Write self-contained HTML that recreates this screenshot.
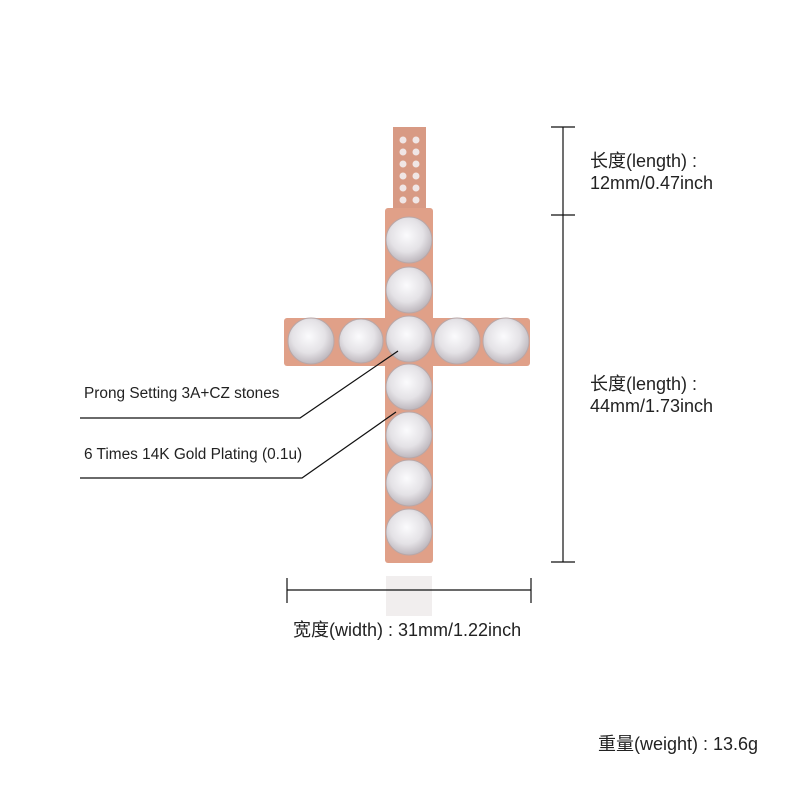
<!DOCTYPE html>
<html><head><meta charset="utf-8"><style>
body{margin:0;width:800px;height:800px;background:#fff;position:relative;font-family:"Liberation Sans","Noto Sans CJK SC",sans-serif;color:#222;overflow:hidden}
.t{position:absolute;font-size:15.4px;white-space:nowrap;line-height:18px}
.b{font-size:18px;line-height:20px}
</style></head><body>
<svg width="800" height="800" style="position:absolute;left:0;top:0">
<defs>
<radialGradient id="g" cx="45%" cy="40%" r="60%"><stop offset="0" stop-color="#fbfbfd"/><stop offset="0.6" stop-color="#e4e2e6"/><stop offset="1" stop-color="#bdb7bd"/></radialGradient>
</defs>
<rect x="393" y="127" width="33" height="82" fill="#d89a84"/>
<g fill="#f0e6e6">
<circle cx="403" cy="140" r="3.5"/><circle cx="416" cy="140" r="3.5"/><circle cx="403" cy="152" r="3.5"/><circle cx="416" cy="152" r="3.5"/><circle cx="403" cy="164" r="3.5"/><circle cx="416" cy="164" r="3.5"/><circle cx="403" cy="176" r="3.5"/><circle cx="416" cy="176" r="3.5"/><circle cx="403" cy="188" r="3.5"/><circle cx="416" cy="188" r="3.5"/><circle cx="403" cy="200" r="3.5"/><circle cx="416" cy="200" r="3.5"/></g>
<rect x="385" y="208" width="48" height="355" rx="3" fill="#e0a088"/>
<rect x="284" y="318" width="246" height="48" rx="3" fill="#e0a088"/>
<g fill="url(#g)" stroke="#b9a7a7" stroke-width="1">
<circle cx="409" cy="240" r="23"/><circle cx="409" cy="290" r="23"/><circle cx="409" cy="339" r="23"/><circle cx="409" cy="387" r="23"/><circle cx="409" cy="435" r="23"/><circle cx="409" cy="483" r="23"/><circle cx="409" cy="532" r="23"/>
<circle cx="311" cy="341" r="23"/><circle cx="361" cy="341" r="22"/><circle cx="457" cy="341" r="23"/><circle cx="506" cy="341" r="23"/>
</g>
<rect x="386" y="576" width="46" height="40" fill="#f1eeee"/>
<g stroke="#111" stroke-width="1.2" fill="none">
<polyline points="80,418 300,418 398,351"/>
<polyline points="80,478 302,478 396,412"/>
<line x1="563" y1="127" x2="563" y2="562"/>
<line x1="551" y1="127" x2="575" y2="127"/>
<line x1="551" y1="215" x2="575" y2="215"/>
<line x1="551" y1="562" x2="575" y2="562"/>
<line x1="287" y1="590" x2="531" y2="590"/>
<line x1="287" y1="578" x2="287" y2="603"/>
<line x1="531" y1="578" x2="531" y2="603"/>
</g>
</svg>
<div class="t" style="left:84px;top:385px">Prong Setting 3A+CZ stones</div>
<div class="t" style="left:84px;top:446px">6 Times 14K Gold Plating (0.1u)</div>
<div class="t b" style="left:590px;top:151px">长度(length) :</div>
<div class="t b" style="left:590px;top:173px">12mm/0.47inch</div>
<div class="t b" style="left:590px;top:374px">长度(length) :</div>
<div class="t b" style="left:590px;top:396px">44mm/1.73inch</div>
<div class="t b" style="left:293px;top:620px">宽度(width) : 31mm/1.22inch</div>
<div class="t b" style="left:598px;top:734px">重量(weight) : 13.6g</div>
</body></html>
